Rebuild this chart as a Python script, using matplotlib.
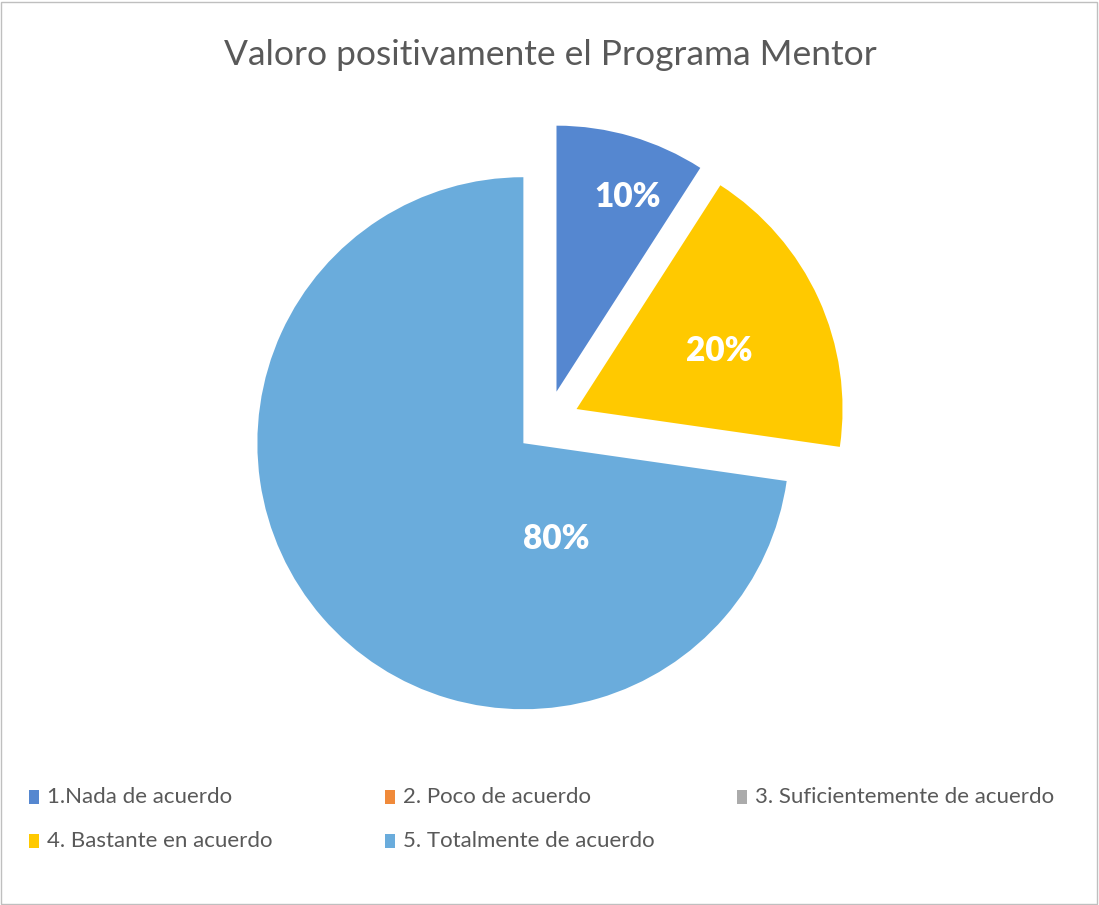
import numpy as np
import matplotlib.pyplot as plt
from matplotlib.patches import Rectangle

plt.rcParams['font.family'] = ['Lato', 'DejaVu Sans']

title = 'Valoro positivamente el Programa Mentor'
categories = ['1.Nada de acuerdo', '2. Poco de acuerdo', '3. Suficientemente de acuerdo',
              '4. Bastante en acuerdo', '5. Totalmente de acuerdo']
values = [0.10, 0.0, 0.0, 0.20, 0.80]
colors = ['#5587D0', '#F08A3A', '#ABABAB', '#FFC900', '#6AACDC']

# label placement inside each wedge (distance from wedge tip, angle clockwise from top)
label_pos = {0: (0.78, 20), 3: (0.58, 68), 4: (0.38, 161)}

W, H = 1099, 905
fig = plt.figure(figsize=(W / 100, H / 100), dpi=100)

size = 2.6 * 266
cx, cy = 547.5, H - 422.3
ax = fig.add_axes([(cx - size / 2) / W, (cy - size / 2) / H, size / W, size / H])

wedges, _ = ax.pie(values, colors=colors, startangle=90, counterclock=False,
                   explode=[0.12] * len(values), radius=1.0,
                   wedgeprops=dict(linewidth=0))
ax.set_xlim(-1.3, 1.3)
ax.set_ylim(-1.3, 1.3)
ax.set_aspect('equal')
ax.axis('off')

for i, w in enumerate(wedges):
    if values[i] == 0:
        continue
    tx, ty = w.center
    d, ang = label_pos[i]
    a = np.deg2rad(ang)
    ax.text(tx + d * np.sin(a), ty + d * np.cos(a), f'{values[i] * 100:.0f}%',
            ha='center', va='center', color='white', fontsize=24, fontweight='heavy')

fig.text(550 / W, 1 - 55 / H, title, ha='center', va='center', fontsize=25.5, color='#595959')

# legend laid out like the original: three equal columns, two rows
col_x = [29, 385, 737]
row_y = [797, 841]
for i, (lab, c) in enumerate(zip(categories, colors)):
    x = col_x[i % 3]
    y = row_y[i // 3]
    fig.patches.append(Rectangle((x / W, 1 - (y + 7) / H), 10 / W, 14 / H,
                                 transform=fig.transFigure, facecolor=c, edgecolor='none'))
    fig.text((x + 18) / W, 1 - y / H, lab, ha='left', va='center', fontsize=16, color='#595959')

fig.patches.append(Rectangle((1 / W, 1 / H), (W - 3) / W, (H - 3) / H, transform=fig.transFigure,
                             facecolor='none', edgecolor='#BFBFBF', linewidth=1))

fig.savefig('out.png', dpi=100)
